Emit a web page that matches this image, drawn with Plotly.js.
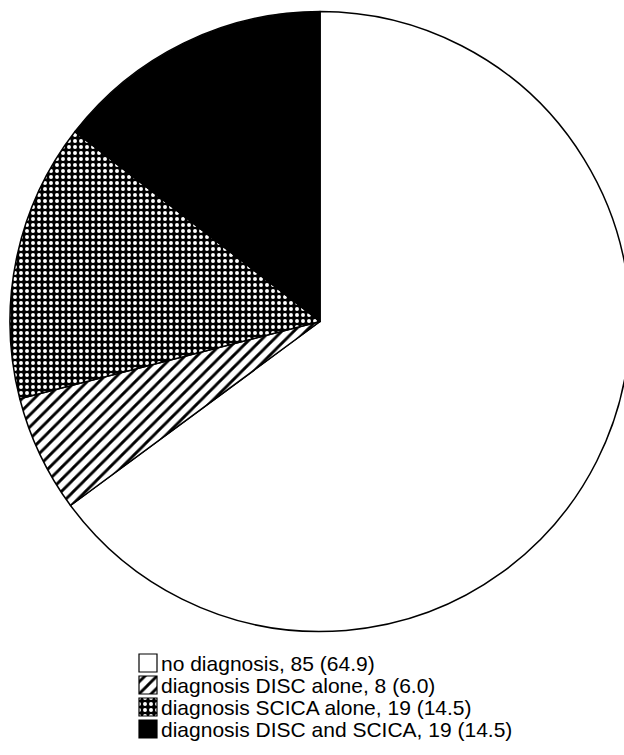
<!DOCTYPE html>
<html>
<head>
<meta charset="utf-8">
<script src="https://cdn.plot.ly/plotly-3.0.1.min.js"></script>
<style>html,body{margin:0;padding:0;background:#fff;overflow:hidden;}</style>
</head>
<body>
<div id="chart" style="width:640px;height:755px;"></div>
<script>
const labels = [
  "no diagnosis, 85 (64.9)",
  "diagnosis DISC alone, 8 (6.0)",
  "diagnosis SCICA alone, 19 (14.5)",
  "diagnosis DISC and SCICA, 19 (14.5)"
];
const counts = [85, 8, 19, 19];

const trace = {
  type: "pie",
  labels: labels,
  values: counts,
  sort: false,
  direction: "clockwise",
  rotation: 0,
  textinfo: "none",
  hoverinfo: "label",
  domain: {x: [10/640, 630/640], y: [(755-631.5)/755, (755-11.5)/755]},
  marker: {
    colors: ["#ffffff", "#ffffff", "#000000", "#000000"],
    line: {color: "#000000", width: 1.5},
    pattern: {
      shape: ["", "/", ".", ""],
      fgcolor: ["#000000", "#000000", "#ffffff", "#000000"],
      bgcolor: ["#ffffff", "#ffffff", "#000000", "#000000"],
      size: [8, 8.5, 6, 8],
      solidity: [0.3, 0.33, 0.34, 0.3],
      fillmode: "replace"
    }
  }
};

const layout = {
  width: 640,
  height: 755,
  margin: {l: 0, r: 0, t: 0, b: 0},
  paper_bgcolor: "#ffffff",
  plot_bgcolor: "#ffffff",
  showlegend: true,
  legend: {
    x: 121/640, xanchor: "left",
    y: 0.005, yanchor: "bottom",
    font: {family: "Liberation Sans, Arial, sans-serif", size: 21, color: "#000"},
    bgcolor: "rgba(0,0,0,0)",
    borderwidth: 0,
    traceorder: "normal",
    itemclick: false
  }
};

const gd = document.getElementById("chart");
Plotly.newPlot(gd, [trace], layout, {staticPlot: true, displayModeBar: false}).then(function () {
  const leg = gd.querySelector("g.legend");
  const lm = /translate\(\s*([-\d.]+)[ ,]+([-\d.]+)\s*\)/.exec(leg.getAttribute("transform") || "");
  const ly = lm ? +lm[2] : 0;
  const items = gd.querySelectorAll(".legend .traces");
  items.forEach(function (g, i) {
    const m = /translate\(\s*([-\d.]+)[ ,]+([-\d.]+)\s*\)/.exec(g.getAttribute("transform") || "");
    const x = m ? +m[1] : 0;
    g.setAttribute("transform", "translate(" + x + "," + (663 - ly + i * 22) + ")");
    const p = g.querySelector("path.legendpie");
    if (p) {
      p.setAttribute("d", "M9,9H-9V-9H9Z");
      p.setAttribute("transform", "translate(27,0)");
      p.style.strokeWidth = "1.2px";
    }
  });
});
</script>
</body>
</html>
